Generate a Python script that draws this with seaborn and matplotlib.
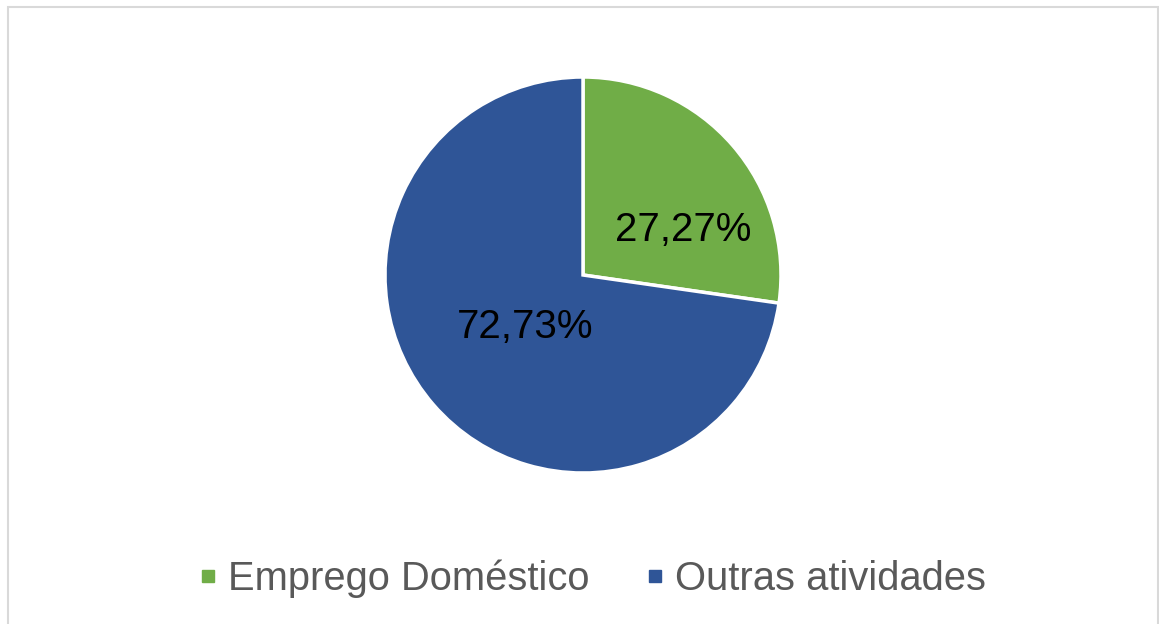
import matplotlib
matplotlib.use("Agg")
import matplotlib.pyplot as plt
import seaborn as sns
from matplotlib.lines import Line2D
from matplotlib.patches import Rectangle

sns.set_theme(style="white")
plt.rcParams['font.family'] = ['Liberation Sans', 'DejaVu Sans']

# dados
categorias = ["Emprego Doméstico", "Outras atividades"]
valores = [27.27, 72.73]
cores = ["#70AD47", "#2F5597"]

fig = plt.figure(figsize=(11.59, 6.24), dpi=100)
fig.patch.set_facecolor("white")

# moldura cinza
fig.patches.append(Rectangle((8 / 1159, -0.01), 1150 / 1159, 1 - 7 / 624 + 0.01,
                             transform=fig.transFigure, fill=False,
                             edgecolor="#D9D9D9", linewidth=1.5))

cx, cy, r = 583, 275, 198
ax = fig.add_axes([(cx - r) / 1159, (624 - cy - r) / 624, 2 * r / 1159, 2 * r / 624])
wedges, _, autotexts = ax.pie(
    valores, colors=cores, startangle=90, counterclock=False, radius=1,
    autopct=lambda p: f"{p:.2f}%".replace(".", ","),
    wedgeprops=dict(edgecolor="white", linewidth=2.5),
    textprops=dict(fontsize=29, color="black"))
ax.set_xlim(-1.0, 1.0)
ax.set_ylim(-1.0, 1.0)
ax.set_aspect("equal")
ax.axis("off")
for w in wedges:
    w.set_clip_on(False)

# posição dos rótulos como no original
autotexts[0].set_position((0.505, 0.227))
autotexts[1].set_position((-0.293, -0.263))

handles = [Line2D([0], [0], marker="s", linestyle="", markersize=9,
                  markerfacecolor=c, markeredgecolor=c) for c in cores]
fig.legend(handles, categorias, loc="center", bbox_to_anchor=(0.509, 1 - 579 / 624),
           ncol=2, frameon=False, fontsize=28.7, labelcolor="#595959",
           handletextpad=0.15, columnspacing=1.3, handlelength=0.7)

fig.savefig("out.png", dpi=100)
